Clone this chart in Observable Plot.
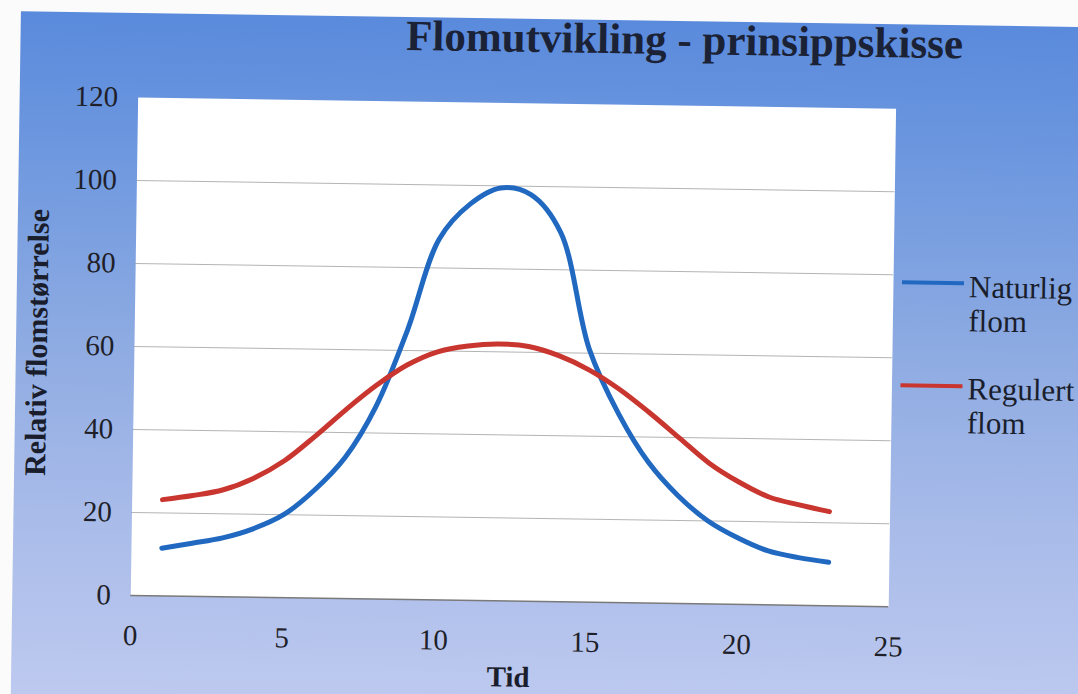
<!DOCTYPE html>
<html>
<head>
<meta charset="utf-8">
<script src="https://cdn.jsdelivr.net/npm/d3@7"></script>
<script src="https://cdn.jsdelivr.net/npm/@observablehq/plot@0.6"></script>
<style>
  html, body { margin: 0; padding: 0; background: #fdfdfd; }
  #outer { position: relative; width: 1078px; height: 694px; overflow: hidden; background: #fbfbfb; }
  #wrap { position: absolute; left: 0; top: 0; width: 1078px; height: 694px;
          transform: rotate(0.85deg); transform-origin: 540px 347px; }
  #bg { position: absolute; left: 16px; top: 19px; width: 1200px; height: 800px;
        background: linear-gradient(180deg, #5a8adc 0px, #6e98df 140px, #8eabe2 330px, #a8bbe9 500px, #bdc9ef 680px, #c2cef0 800px); }
  #chart { position: absolute; left: 0; top: 0; }
  .txt { position: absolute; font-family: "Liberation Serif", "Times New Roman", serif; color: #1a1e2c; white-space: nowrap; }
  #title { left: 680px; top: 16px; transform: translateX(-50%); font-size: 43px; line-height: 43px; font-weight: bold; color: #1b2236; }
  #ylab { left: 37px; top: 350px; transform: translate(-50%, -50%) rotate(-90deg); font-size: 30px; line-height: 30px; font-weight: bold; }
  #xlab { left: 513px; top: 663px; transform: translateX(-50%); font-size: 29px; line-height: 29px; font-weight: bold; }
  .leg { position: absolute; left: 968px; font-size: 31px; line-height: 34px; }
  .legline { position: absolute; left: 901px; width: 62px; height: 4px; }
</style>
</head>
<body>
<div id="outer">
  <div id="wrap">
    <div id="bg"></div>
    <div id="chart"></div>
    <div id="title" class="txt">Flomutvikling - prinsippskisse</div>
    <div id="ylab" class="txt">Relativ flomstørrelse</div>
    <div id="xlab" class="txt">Tid</div>
    <div id="legend"></div>
  </div>
</div>
<script>
// ---- data ----
const tid = [1, 2, 3, 4, 5, 6, 7, 8, 9, 10, 11, 12, 13, 14, 15, 16, 17, 18, 19, 20, 21, 22, 23];
const naturligFlom = [11.5, 12.8, 14.2, 16.5, 20, 26, 34, 46.5, 65, 87, 95.5, 99.5, 98, 89, 61, 45.5, 34, 26, 20, 16, 13, 11.5, 10.5];
const regulertFlom = [23.2, 24.3, 25.8, 28.7, 33, 39, 45.5, 51.5, 56.5, 59.8, 61.3, 61.9, 61.4, 59.3, 56, 51.5, 46, 40, 34, 29.5, 26, 24.2, 22.7];
const seriesNames = ["Naturlig flom", "Regulert flom"];
const seriesLabels = [["Naturlig", "flom"], ["Regulert", "flom"]];
const seriesColors = ["#2169c0", "#c8362f"];
const xTicks = [0, 5, 10, 15, 20, 25];
const yTicks = [0, 20, 40, 60, 80, 100, 120];
const yGrid = [20, 40, 60, 80, 100];

const rows = [];
tid.forEach((t, i) => rows.push({tid: t, verdi: naturligFlom[i], serie: seriesNames[0]}));
tid.forEach((t, i) => rows.push({tid: t, verdi: regulertFlom[i], serie: seriesNames[1]}));

const chart = Plot.plot({
  width: 1078,
  height: 694,
  marginLeft: 134,
  marginRight: 186,
  marginTop: 103,
  marginBottom: 93,
  style: {background: "transparent", fontFamily: "'Liberation Serif', 'Times New Roman', serif", fontSize: "29px", color: "#1f1f2a", overflow: "visible"},
  x: {domain: [0, 25], label: null},
  y: {domain: [0, 120], label: null},
  color: {domain: seriesNames, range: seriesColors},
  marks: [
    Plot.frame({fill: "white", stroke: "none"}),
    Plot.gridY(yGrid, {stroke: "#8c8c8c", strokeOpacity: 0.65, strokeWidth: 1}),
    Plot.ruleY([0], {stroke: "#7a7a7a", strokeWidth: 1.5}),
    Plot.axisX(xTicks, {tickSize: 0, tickPadding: 29, fontSize: 29, label: null}),
    Plot.axisY(yTicks, {tickSize: 0, tickPadding: 20, fontSize: 29, label: null}),
    Plot.line(rows, {x: "tid", y: "verdi", z: "serie", stroke: "serie", strokeWidth: 5, curve: "catmull-rom"})
  ]
});
document.getElementById("chart").appendChild(chart);

// legend
const legend = document.getElementById("legend");
const legTop = [264, 366];
const lineTop = [275, 378];
seriesNames.forEach((s, i) => {
  const ln = document.createElement("div");
  ln.className = "legline";
  ln.style.top = lineTop[i] + "px";
  ln.style.background = seriesColors[i];
  legend.appendChild(ln);
  const tx = document.createElement("div");
  tx.className = "txt leg";
  tx.style.top = legTop[i] + "px";
  tx.innerHTML = seriesLabels[i].join("<br>");
  legend.appendChild(tx);
});
</script>
</body>
</html>
